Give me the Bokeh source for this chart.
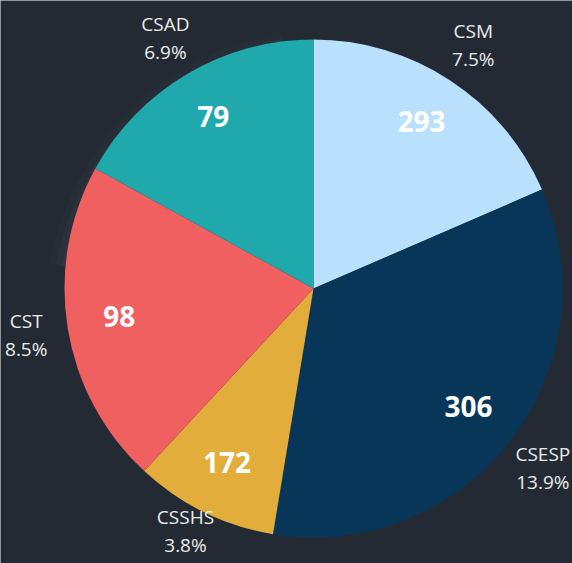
import math
from bokeh.plotting import figure
from bokeh.models import ColumnDataSource, Range1d
from bokeh.core.properties import value
from bokeh.embed import file_html
from bokeh.resources import INLINE

# ---- data ----
categories = ["CSM", "CSESP", "CSSHS", "CST", "CSAD"]
slice_values = [18.5, 34.1, 9.3, 21.1, 17.0]
inner_labels = ["293", "306", "172", "98", "79"]
pct_labels = ["7.5%", "13.9%", "3.8%", "8.5%", "6.9%"]
colors = ["#b9e0fd", "#083659", "#e2ad3a", "#f06060", "#1fa9ad"]

W, H = 572, 563
CX, CY, R = 313, 275, 249
R_IN, R_OUT, LINE = 0.79 * R, 291, 14
MIN_Y = 19

total = sum(slice_values)
starts, ends, mids = [], [], []
cum = 0.0
for v in slice_values:
    a0 = math.pi / 2 - 2 * math.pi * cum / total
    cum += v
    a1 = math.pi / 2 - 2 * math.pi * cum / total
    starts.append(a0)
    ends.append(a1)
    mids.append((a0 + a1) / 2)

ny, py = [], []
for m in mids:
    c = CY + R_OUT * math.sin(m)
    c = max(c, MIN_Y + LINE)        # keep the label block inside the page
    ny.append(c + LINE)
    py.append(c - LINE)

src = ColumnDataSource(dict(
    cat=categories, start=starts, end=ends, color=colors,
    ix=[CX + R_IN * math.cos(m) for m in mids],
    iy=[CY + R_IN * math.sin(m) + 3 for m in mids],
    inner=inner_labels,
    nx=[CX + R_OUT * math.cos(m) for m in mids],
    ny=ny, py=py,
    pct=pct_labels,
))

p = figure(width=W, height=H, output_backend="svg", toolbar_location=None,
           x_range=Range1d(0, W), y_range=Range1d(0, H), min_border=0)
p.axis.visible = False
p.grid.visible = False
p.outline_line_color = None
p.background_fill_color = "#232a33"
p.border_fill_color = "#232a33"

# subtle blurred background ring (decorative)
for i, a in enumerate([0.03, 0.035, 0.04, 0.045]):
    p.annular_wedge(x=[330], y=[250], inner_radius=[240 + i * 6], outer_radius=[285 - i * 6],
                    start_angle=[math.radians(100)], end_angle=[math.radians(170)],
                    color="#a0a0aa", alpha=a, line_color=None)

p.wedge(x=CX, y=CY, radius=R, start_angle="start", end_angle="end",
        direction="clock", fill_color="color", line_color=None, source=src)

p.text(x="ix", y="iy", text="inner", source=src, text_align="center",
       text_baseline="middle", text_color="white", text_font=value("Open Sans"),
       text_font_style="bold", text_font_size="28px")
p.text(x="nx", y="ny", text="cat", source=src, text_align="center",
       text_baseline="middle", text_color="#ececec", text_font=value("Open Sans"),
       text_font_size="19px")
p.text(x="nx", y="py", text="pct", source=src, text_align="center",
       text_baseline="middle", text_color="#ececec", text_font=value("Open Sans"),
       text_font_size="19px")

open("out.html", "w").write(file_html(p, INLINE))
